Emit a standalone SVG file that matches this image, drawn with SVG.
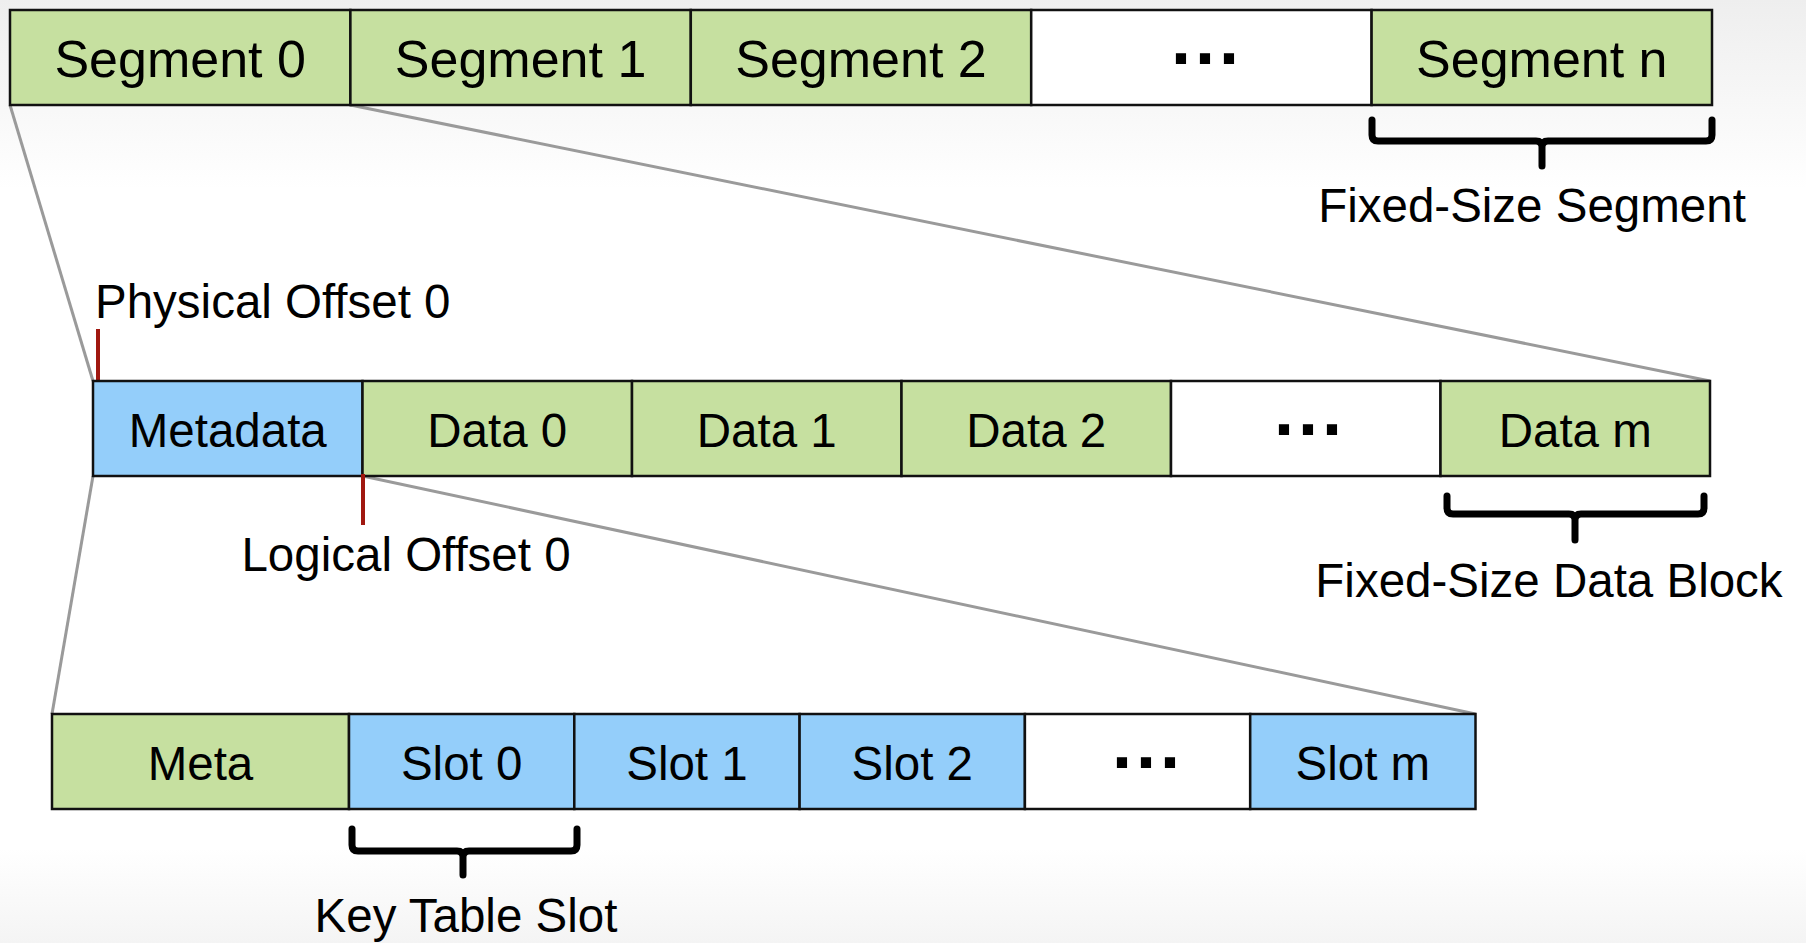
<svg xmlns="http://www.w3.org/2000/svg" width="1806" height="943" viewBox="0 0 1806 943">
<style>
  .g{fill:#c6e0a0;stroke:#111;stroke-width:2.5}
  .b{fill:#94cefa;stroke:#111;stroke-width:2.5}
  .w{fill:#ffffff;stroke:#111;stroke-width:2.5}
  .t{font-family:"Liberation Sans",Arial,sans-serif;font-size:47.5px;fill:#000;text-anchor:middle}
  .t1{font-size:52px}
  .lbl{font-family:"Liberation Sans",Arial,sans-serif;font-size:47.5px;fill:#000}
  .dots{font-family:"Liberation Sans",Arial,sans-serif;font-weight:bold;font-size:72px;fill:#000;text-anchor:middle;letter-spacing:4px}
  .conn{stroke:#9a9a9a;stroke-width:3;fill:none}
  .br{stroke:#000;stroke-width:7;fill:none;stroke-linejoin:round;stroke-linecap:round}
  .tick{stroke:#a01810;stroke-width:4;fill:none}
</style>
<defs>
  <linearGradient id="bg" x1="0" y1="0" x2="0" y2="1">
    <stop offset="0" stop-color="#eeeeee"/>
    <stop offset="0.2" stop-color="#ffffff"/>
    <stop offset="0.9" stop-color="#ffffff"/>
    <stop offset="1" stop-color="#f4f4f4"/>
  </linearGradient>
</defs>
<rect x="0" y="0" width="1806" height="943" fill="url(#bg)"/>

<g id="connectors">
  <line class="conn" x1="10" y1="105" x2="93" y2="381"/>
  <line class="conn" x1="350.4" y1="105" x2="1710" y2="381"/>
  <line class="conn" x1="93" y1="476" x2="52" y2="714"/>
  <line class="conn" x1="362.5" y1="476" x2="1475.5" y2="714"/>
</g>

<g id="row1">
  <g id="seg0"><rect class="g" x="10" y="10" width="340.4" height="95"/><text class="t t1" x="180.2" y="77">Segment 0</text></g>
  <g id="seg1"><rect class="g" x="350.4" y="10" width="340.4" height="95"/><text class="t t1" x="520.6" y="77">Segment 1</text></g>
  <g id="seg2"><rect class="g" x="690.8" y="10" width="340.4" height="95"/><text class="t t1" x="861" y="77">Segment 2</text></g>
  <g id="segdots"><rect class="w" x="1031.2" y="10" width="340.4" height="95"/><text class="dots" x="1207" y="64">...</text></g>
  <g id="segn"><rect class="g" x="1371.6" y="10" width="340.4" height="95"/><text class="t t1" x="1541.8" y="77">Segment n</text></g>
</g>

<g id="bracket-segment">
  <path class="br" d="M1372,120 L1372,135 Q1372,141 1378,141 L1536,141 Q1542,141 1542,147 L1542,166 M1542,147 Q1542,141 1548,141 L1706,141 Q1712,141 1712,135 L1712,120"/>
  <text class="lbl" x="1532" y="222" text-anchor="middle">Fixed-Size Segment</text>
</g>

<g id="physical-offset">
  <line class="tick" x1="98" y1="329" x2="98" y2="380"/>
  <text class="lbl" x="95" y="318">Physical Offset 0</text>
</g>

<g id="row2">
  <g id="metadata"><rect class="b" x="93" y="381" width="269.5" height="95"/><text class="t" x="227.75" y="447">Metadata</text></g>
  <g id="data0"><rect class="g" x="362.5" y="381" width="269.5" height="95"/><text class="t" x="497.25" y="447">Data 0</text></g>
  <g id="data1"><rect class="g" x="632" y="381" width="269.5" height="95"/><text class="t" x="766.75" y="447">Data 1</text></g>
  <g id="data2"><rect class="g" x="901.5" y="381" width="269.5" height="95"/><text class="t" x="1036.25" y="447">Data 2</text></g>
  <g id="datadots"><rect class="w" x="1171" y="381" width="269.5" height="95"/><text class="dots" x="1310" y="435">...</text></g>
  <g id="datam"><rect class="g" x="1440.5" y="381" width="269.5" height="95"/><text class="t" x="1575.25" y="447">Data m</text></g>
</g>

<g id="logical-offset">
  <line class="tick" x1="363" y1="474" x2="363" y2="525"/>
  <text class="lbl" x="406" y="571" text-anchor="middle">Logical Offset 0</text>
</g>

<g id="bracket-data">
  <path class="br" d="M1447,496 L1447,508 Q1447,514 1453,514 L1569,514 Q1575,514 1575,520 L1575,540 M1575,520 Q1575,514 1581,514 L1698,514 Q1704,514 1704,508 L1704,496"/>
  <text class="lbl" x="1549" y="597" text-anchor="middle">Fixed-Size Data Block</text>
</g>

<g id="row3">
  <g id="meta"><rect class="g" x="52" y="714" width="297" height="95"/><text class="t" x="200.5" y="780">Meta</text></g>
  <g id="slot0"><rect class="b" x="349" y="714" width="225.3" height="95"/><text class="t" x="461.65" y="780">Slot 0</text></g>
  <g id="slot1"><rect class="b" x="574.3" y="714" width="225.3" height="95"/><text class="t" x="686.95" y="780">Slot 1</text></g>
  <g id="slot2"><rect class="b" x="799.6" y="714" width="225.3" height="95"/><text class="t" x="912.25" y="780">Slot 2</text></g>
  <g id="slotdots"><rect class="w" x="1024.9" y="714" width="225.3" height="95"/><text class="dots" x="1148" y="768">...</text></g>
  <g id="slotm"><rect class="b" x="1250.2" y="714" width="225.3" height="95"/><text class="t" x="1362.85" y="780">Slot m</text></g>
</g>

<g id="bracket-slot">
  <path class="br" d="M352,829 L352,845 Q352,851 358,851 L457,851 Q463,851 463,857 L463,875 M463,857 Q463,851 469,851 L571,851 Q577,851 577,845 L577,829"/>
  <text class="lbl" x="466" y="932" text-anchor="middle">Key Table Slot</text>
</g>
</svg>
